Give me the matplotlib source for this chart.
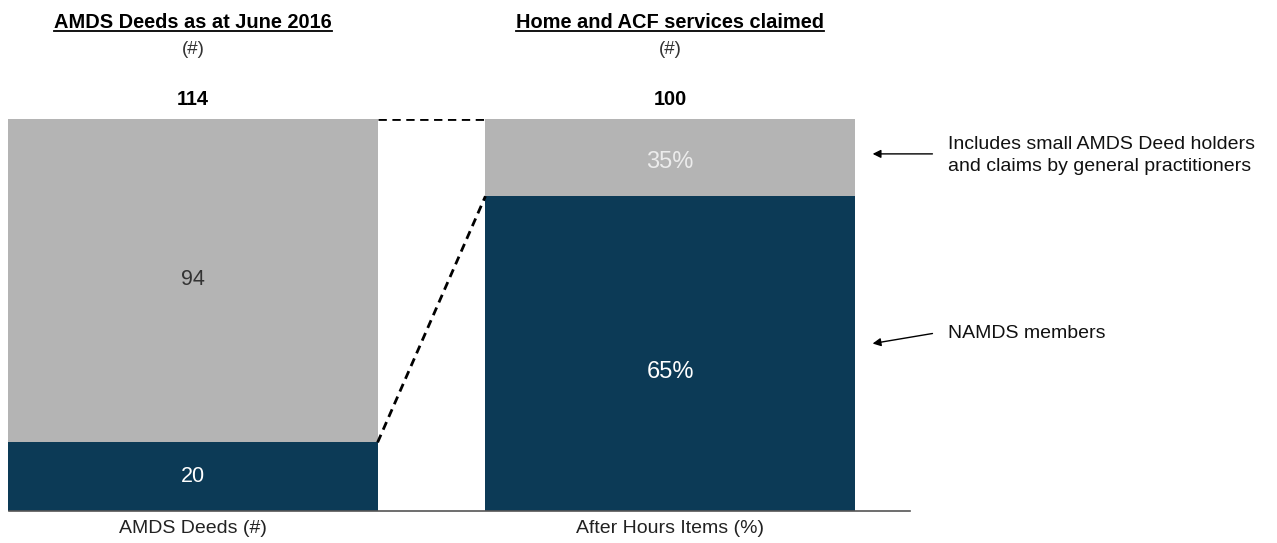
"""AMDS deeds vs after-hours items claimed: two stacked bars joined by dashed guides."""
import matplotlib.pyplot as plt

plt.rcParams["font.family"] = ["Liberation Sans", "DejaVu Sans"]

# --- data -------------------------------------------------------------
categories = ["AMDS Deeds (#)", "After Hours Items (%)"]
panel_titles = ["AMDS Deeds as at June 2016", "Home and ACF services claimed"]
totals = ["114", "100"]
# bottom (dark) and top (grey) segment labels
bottom_labels = ["20", "65%"]
top_labels = ["94", "35%"]
# segment heights as drawn, in % of each bar
bottom_share = [17.5, 80.3]
top_share = [82.5, 19.7]
notes = ["Includes small AMDS Deed holders\nand claims by general practitioners",
         "NAMDS members"]

NAVY = "#0c3a56"
GREY = "#b4b4b4"

fig = plt.figure(figsize=(12.77, 5.43), dpi=100)
ax = fig.add_axes([0, 32 / 543, 1, 392 / 543])
ax.set_xlim(-193 / 477, (1277 - 193) / 477)
ax.set_ylim(0, 100)
ax.axis("off")

x = [0, 1]
w = 0.774
ax.bar(x, bottom_share, width=w, color=NAVY, edgecolor="none")
ax.bar(x, top_share, width=w, bottom=bottom_share, color=GREY, edgecolor="none")

# baseline
ax.plot([-0.386, 1.503], [0, 0], color="#555555", lw=1.2, clip_on=False)

# segment labels (positions follow the reference, not exact segment centres)
bottom_y = [8.7, 35.5]
top_y = [59.0, 89.0]
top_colors = ["#333333", "#ececec"]
sizes = [15.5, 17]
for i in x:
    ax.text(i, bottom_y[i], bottom_labels[i], ha="center", va="center",
            color="white", fontsize=sizes[i])
    ax.text(i, top_y[i], top_labels[i], ha="center", va="center",
            color=top_colors[i], fontsize=sizes[i])

# dashed connectors between the bars
ax.plot([w / 2, 1 - w / 2], [100, 100], color="black", lw=2, dashes=(3, 2))
ax.plot([w / 2, 1 - w / 2], [bottom_share[0], bottom_share[1]],
        color="black", lw=2, dashes=(3, 2))

# headings, units and totals
title_texts = []
for i in x:
    t = ax.text(i, 124.5, panel_titles[i], ha="center", va="center", fontsize=14.4,
                fontweight="bold", clip_on=False)
    title_texts.append(t)
    ax.text(i, 117.7, "(#)", ha="center", va="center", fontsize=13.5,
            color="#333333", clip_on=False)
    ax.text(i, 105, totals[i], ha="center", va="center", fontsize=14.4,
            fontweight="bold", clip_on=False)
    ax.text(i, -4.4, categories[i], ha="center", va="center", fontsize=14,
            color="#222222", clip_on=False)

# underline the headings
fig.canvas.draw()
renderer = fig.canvas.get_renderer()
inv = ax.transData.inverted()
for t in title_texts:
    bb = t.get_window_extent(renderer)
    (x0, y0), (x1, _) = inv.transform([(bb.x0, bb.y0), (bb.x1, bb.y1)])
    ax.plot([x0, x1], [y0 + 0.3, y0 + 0.3], color="black", lw=1.3, clip_on=False)

# side notes with arrows
ax.annotate("", xy=(1.419, 91.1), xytext=(1.556, 91.1),
            arrowprops=dict(arrowstyle="-|>", color="black", lw=1, mutation_scale=12))
ax.text(1.583, 90.6, notes[0], ha="left", va="center", fontsize=14,
        linespacing=1.4, color="#111111")
ax.annotate("", xy=(1.419, 42.6), xytext=(1.556, 45.4),
            arrowprops=dict(arrowstyle="-|>", color="black", lw=1, mutation_scale=12))
ax.text(1.583, 45.4, notes[1], ha="left", va="center", fontsize=14, color="#111111")

fig.savefig("out.png", dpi=100)
